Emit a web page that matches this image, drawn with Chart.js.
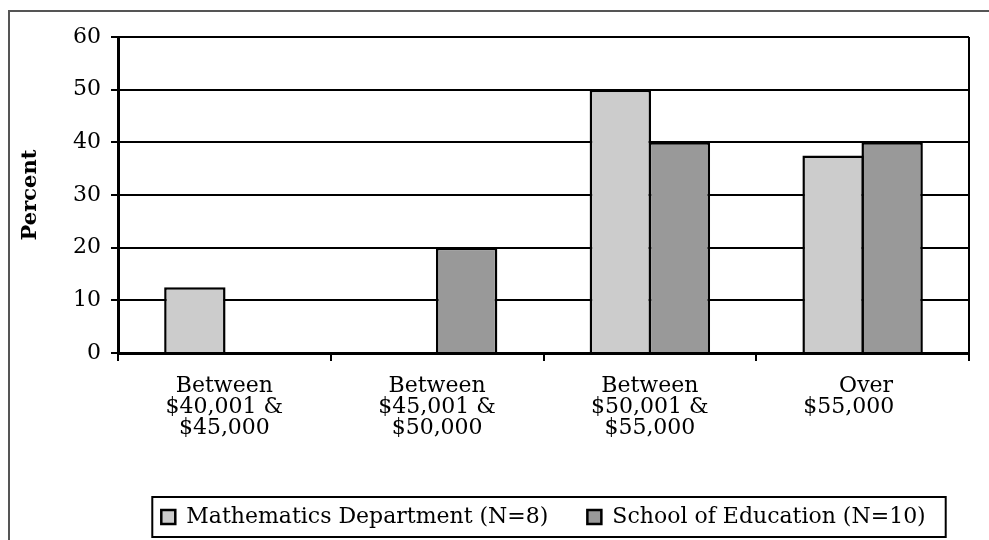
<!DOCTYPE html>
<html>
<head>
<meta charset="utf-8">
<script src="https://cdn.jsdelivr.net/npm/chart.js@4.4.0/dist/chart.umd.min.js"></script>
<style>
  html, body { margin: 0; padding: 0; background: #fff; }
  #wrap { width: 989px; height: 540px; }
</style>
</head>
<body>
<div id="wrap"><canvas id="grafico" width="989" height="540"></canvas></div>
<script>
// salary bands (the extra spaces keep Excel's odd centering of the last label)
const categories = [
  ['Between', '$40,001 &', '$45,000'],
  ['Between', '$45,001 &', '$50,000'],
  ['Between', '$50,001 &', '$55,000'],
  [' Over', '$55,000    ']
];
const mathValues = [12.5, 0, 50, 37.5];
const eduValues = [0, 20, 40, 40];
const seriesNames = ['Mathematics Department (N=8)', 'School of Education (N=10)'];
const yTicks = [0, 10, 20, 30, 40, 50, 60];

const FONT = "'DejaVu Serif', serif";
Chart.defaults.font.family = FONT;
Chart.defaults.color = '#000';

// grey frame round the whole picture, open to the right and bottom
const outerFrame = {
  id: 'outerFrame',
  beforeDraw(chart) {
    const ctx = chart.ctx;
    ctx.save();
    ctx.fillStyle = '#fff';
    ctx.fillRect(0, 0, chart.width, chart.height);
    ctx.strokeStyle = '#555';
    ctx.lineWidth = 2;
    ctx.strokeRect(9, 11, chart.width + 20, chart.height + 20);
    ctx.restore();
  }
};

// box drawn round the legend items
const legendFrame = {
  id: 'legendFrame',
  afterDraw(chart) {
    const hb = chart.legend && chart.legend.legendHitBoxes;
    if (!hb || !hb.length) return;
    const last = hb[hb.length - 1];
    const left = hb[0].left - 9;
    const right = last.left + last.width + 20;
    const top = hb[0].top - 9;
    const bottom = hb[0].top + hb[0].height + 9;
    const ctx = chart.ctx;
    ctx.save();
    ctx.strokeStyle = '#000';
    ctx.lineWidth = 2;
    ctx.strokeRect(left, top, right - left, bottom - top);
    ctx.restore();
  }
};

new Chart(document.getElementById('grafico').getContext('2d'), {
  type: 'bar',
  data: {
    labels: categories,
    datasets: [
      {
        label: seriesNames[0],
        data: mathValues,
        backgroundColor: '#cccccc',
        borderColor: '#000',
        borderWidth: 2.5
      },
      {
        label: seriesNames[1],
        data: eduValues,
        backgroundColor: '#999999',
        borderColor: '#000',
        borderWidth: 2.5
      }
    ]
  },
  options: {
    responsive: false,
    animation: false,
    events: [],
    // bars slightly wider than their slot so neighbours share one outline
    datasets: { bar: { categoryPercentage: 0.555, barPercentage: 1.04 } },
    layout: { padding: { left: 9, top: 37, right: 20, bottom: 2 } },
    plugins: {
      tooltip: { enabled: false },
      legend: {
        position: 'bottom',
        fullSize: false,
        labels: {
          boxWidth: 14,
          boxHeight: 14,
          padding: 39,
          color: '#000',
          font: { size: 22 }
        }
      }
    },
    scales: {
      x: {
        grid: {
          offset: true,
          drawOnChartArea: true,
          color: c => c.type === 'tick' ? 'rgba(0,0,0,0)' : '#000',
          lineWidth: 2,
          tickLength: 8,
          tickColor: '#000',
          tickWidth: 2
        },
        border: { color: '#000', width: 3 },
        ticks: {
          color: '#000',
          font: { size: 22, lineHeight: 0.95 },
          padding: 15,
          maxRotation: 0,
          autoSkip: false
        },
        afterFit: s => { s.height = 114; }
      },
      y: {
        min: 0,
        max: 60,
        afterBuildTicks: s => { s.ticks = yTicks.map(v => ({ value: v })); },
        ticks: { color: '#000', font: { size: 22 }, padding: 10 },
        grid: { color: '#000', lineWidth: 2, tickLength: 7, tickColor: '#000', tickWidth: 2 },
        border: { color: '#000', width: 3 },
        title: {
          display: true,
          text: 'Percent',
          color: '#000',
          font: { size: 21, weight: 'bold', lineHeight: 1.2 },
          padding: { top: 9, bottom: 0 }
        },
        afterFit: s => { s.width = 109; }
      }
    }
  },
  plugins: [outerFrame, legendFrame]
});
</script>
</body>
</html>
